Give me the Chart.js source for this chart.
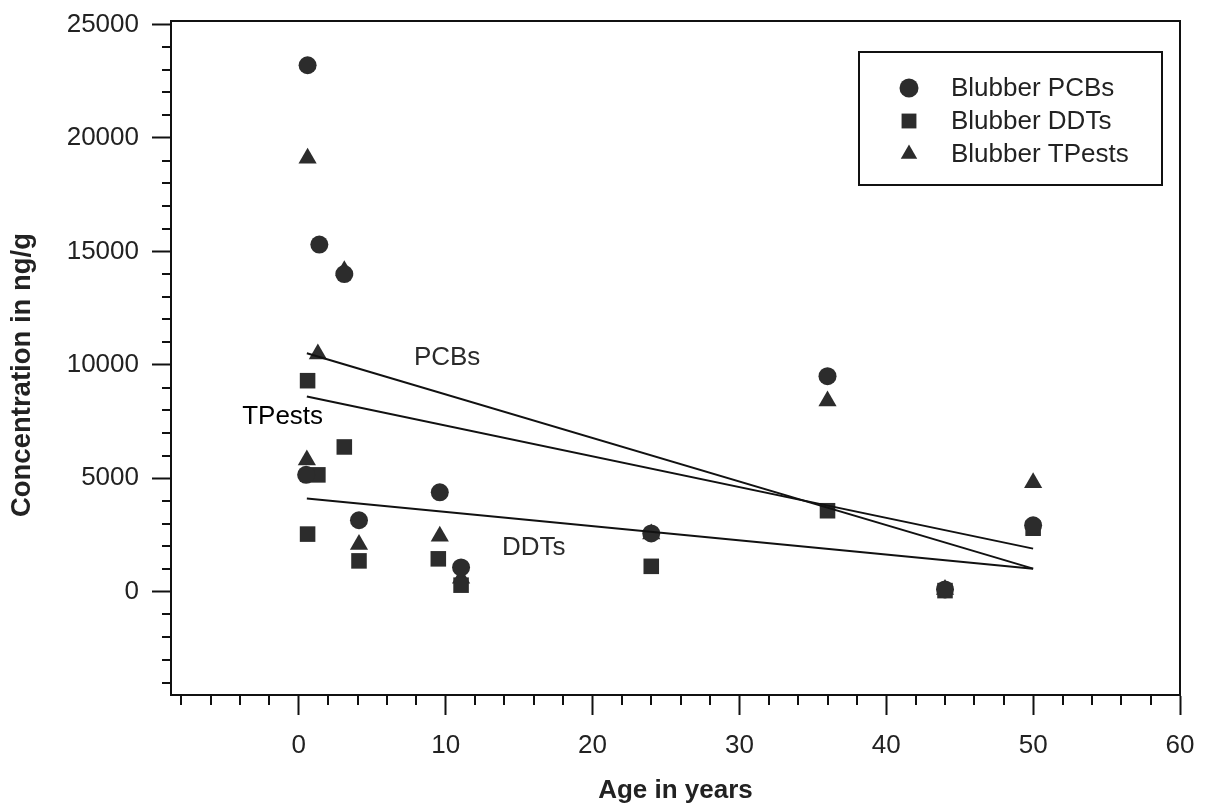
<!DOCTYPE html>
<html><head><meta charset="utf-8">
<script src="https://cdn.jsdelivr.net/npm/chart.js@4/dist/chart.umd.min.js"></script>
<style>html,body{margin:0;padding:0;background:#fff}#wrap{width:1209px;height:808px;position:relative}</style>
</head><body><div id="wrap"><canvas id="c"></canvas></div>
<script>
// ---- data ----
const pcbAge  = [0.6, 1.4, 3.1, 0.5, 4.1, 9.6, 11.05, 24, 36, 44, 50];
const pcbConc = [23200, 15300, 14000, 5150, 3150, 4380, 1070, 2570, 9500, 100, 2930];
const ddtAge  = [0.6, 1.3, 3.1, 0.6, 4.1, 9.5, 11.05, 24, 36, 44, 50];
const ddtConc = [9300, 5150, 6380, 2540, 1360, 1450, 290, 1120, 3570, 50, 2800];
const tpAge   = [0.6, 3.1, 1.3, 0.55, 4.1, 9.6, 11.05, 24, 36, 44, 50];
const tpConc  = [19100, 14150, 10480, 5800, 2080, 2450, 600, 2550, 8400, 100, 4800];
const trendAge = [0.55, 50];
const pcbTrend = [10510, 1020];
const tpTrend  = [8600, 1900];
const ddtTrend = [4110, 1010];
const seriesLabels = ['Blubber PCBs', 'Blubber DDTs', 'Blubber TPests'];
const trendLabels = ['PCBs', 'TPests', 'DDTs'];
const trendLabelAt = [[10.1, 10300], [-1.1, 7700], [16, 1920]];
const xTickValues = [0, 10, 20, 30, 40, 50, 60];
const yTickValues = [0, 5000, 10000, 15000, 20000, 25000];
const xRange = [-8.7, 60];
const yRange = [-4550, 25150];
const xMinor = 2, yMinor = 1000;
const xTitle = 'Age in years';
const yTitle = 'Concentration in ng/g';

const FONT = "'Liberation Sans', Arial, Helvetica, sans-serif";
const INK = '#111';
const MARK = '#2c2c2c';

function pts(xs, ys) { return xs.map((x, i) => ({x: x, y: ys[i]})); }

function drawMarker(ctx, style, x, y, r) {
  ctx.beginPath();
  if (style === 'circle') {
    ctx.arc(x, y, r, 0, Math.PI * 2);
  } else if (style === 'rect') {
    const s = r * Math.SQRT1_2;
    ctx.rect(x - s, y - s, 2 * s, 2 * s);
  } else {
    for (let k = 0; k < 3; k++) {
      const a = k * 2 * Math.PI / 3;
      const px = x + Math.sin(a) * r, py = y - Math.cos(a) * r;
      if (k === 0) ctx.moveTo(px, py); else ctx.lineTo(px, py);
    }
    ctx.closePath();
  }
  ctx.fill();
}

const decorPlugin = {
  id: 'decor',
  afterDatasetsDraw(chart) {
    const ctx = chart.ctx, a = chart.chartArea;
    const xs = chart.scales.x, ys = chart.scales.y;
    ctx.save();
    // frame
    ctx.strokeStyle = INK; ctx.lineWidth = 2;
    ctx.strokeRect(a.left, a.top, a.right - a.left, a.bottom - a.top);
    // minor ticks
    ctx.beginPath();
    for (let v = Math.ceil(yRange[0] / yMinor) * yMinor; v <= yRange[1]; v += yMinor) {
      if (yTickValues.includes(v) || v === -5000) continue;
      const py = Math.round(ys.getPixelForValue(v));
      ctx.moveTo(a.left - 9, py); ctx.lineTo(a.left, py);
    }
    for (let v = Math.ceil(xRange[0] / xMinor) * xMinor; v <= xRange[1]; v += xMinor) {
      if (xTickValues.includes(v)) continue;
      const px = Math.round(xs.getPixelForValue(v));
      ctx.moveTo(px, a.bottom); ctx.lineTo(px, a.bottom + 10);
    }
    ctx.stroke();
    // y axis title
    ctx.save();
    ctx.translate(a.left - 149, ys.getPixelForValue(9550));
    ctx.rotate(-Math.PI / 2);
    ctx.font = 'bold 27.5px ' + FONT;
    ctx.fillStyle = '#222';
    ctx.textAlign = 'center'; ctx.textBaseline = 'middle';
    ctx.fillText(yTitle, 0, 0);
    ctx.restore();
    // trend labels
    ctx.font = '26px ' + FONT;
    ctx.textAlign = 'center'; ctx.textBaseline = 'middle';
    trendLabels.forEach((t, i) => {
      ctx.fillStyle = t === 'TPests' ? '#000' : '#2a2a2a';
      ctx.fillText(t, xs.getPixelForValue(trendLabelAt[i][0]), ys.getPixelForValue(trendLabelAt[i][1]));
    });
    // legend
    const bw = 303, bh = 133;
    const bx = a.right - 18 - bw, by = a.top + 31;
    ctx.fillStyle = '#fff';
    ctx.fillRect(bx, by, bw, bh);
    ctx.strokeStyle = INK; ctx.lineWidth = 2;
    ctx.strokeRect(bx, by, bw, bh);
    const ds = chart.data.datasets.filter(d => d.isSeries);
    ds.forEach((d, i) => {
      const cy = by + 36 + i * 33;
      ctx.fillStyle = MARK;
      drawMarker(ctx, d.pointStyle, bx + 50, cy, d.pointStyle === 'rect' ? 10.5 : 9.5);
      ctx.fillStyle = '#222';
      ctx.textAlign = 'left'; ctx.textBaseline = 'middle';
      ctx.font = '26px ' + FONT;
      ctx.fillText(d.label, bx + 92, cy + 1);
    });
    ctx.restore();
  }
};

const commonTicks = {color: '#222', font: {family: FONT, size: 26}, callback: v => String(v)};

new Chart(document.getElementById('c'), {
  type: 'scatter',
  data: {
    datasets: [
      {type: 'line', label: trendLabels[0], data: pts(trendAge, pcbTrend), borderColor: INK, borderWidth: 2, pointRadius: 0, showLine: true, fill: false, order: 0},
      {type: 'line', label: trendLabels[1], data: pts(trendAge, tpTrend), borderColor: INK, borderWidth: 2, pointRadius: 0, showLine: true, fill: false, order: 0},
      {type: 'line', label: trendLabels[2], data: pts(trendAge, ddtTrend), borderColor: INK, borderWidth: 2, pointRadius: 0, showLine: true, fill: false, order: 0},
      {label: seriesLabels[0], isSeries: true, data: pts(pcbAge, pcbConc), pointStyle: 'circle', pointRadius: 9, backgroundColor: MARK, borderWidth: 0, order: 1},
      {label: seriesLabels[1], isSeries: true, data: pts(ddtAge, ddtConc), pointStyle: 'rect', pointRadius: 11, backgroundColor: MARK, borderWidth: 0, order: 1},
      {label: seriesLabels[2], isSeries: true, data: pts(tpAge, tpConc), pointStyle: 'triangle', pointRadius: 10.5, backgroundColor: MARK, borderWidth: 0, order: 1}
    ]
  },
  options: {
    responsive: true,
    maintainAspectRatio: false,
    animation: false,
    devicePixelRatio: 1,
    layout: {padding: {top: 21, right: 29, left: 0, bottom: 0}},
    plugins: {legend: {display: false}, tooltip: {enabled: false}},
    scales: {
      x: {
        type: 'linear', position: 'bottom', min: xRange[0], max: xRange[1],
        afterBuildTicks(s) { s.ticks = xTickValues.map(v => ({value: v})); },
        ticks: Object.assign({padding: 15, maxRotation: 0, autoSkip: false}, commonTicks),
        grid: {drawOnChartArea: false, drawTicks: true, tickLength: 20, tickWidth: 2, tickColor: INK},
        border: {display: true, color: INK, width: 2},
        title: {display: true, text: xTitle, color: '#222', font: {family: FONT, size: 26, weight: 'bold'}, padding: {top: 0, bottom: 2}},
        afterFit(s) { s.height = 113; s.paddingLeft = 0; s.paddingRight = 0; }
      },
      y: {
        type: 'linear', position: 'left', min: yRange[0], max: yRange[1],
        afterBuildTicks(s) { s.ticks = yTickValues.map(v => ({value: v})); },
        ticks: Object.assign({padding: 13, autoSkip: false}, commonTicks),
        grid: {drawOnChartArea: false, drawTicks: true, tickLength: 19, tickWidth: 2, tickColor: INK},
        border: {display: true, color: INK, width: 2},
        title: {display: false},
        afterFit(s) { s.width = 171; s.paddingTop = 0; s.paddingBottom = 0; }
      }
    }
  },
  plugins: [decorPlugin]
});
</script>
</body></html>
